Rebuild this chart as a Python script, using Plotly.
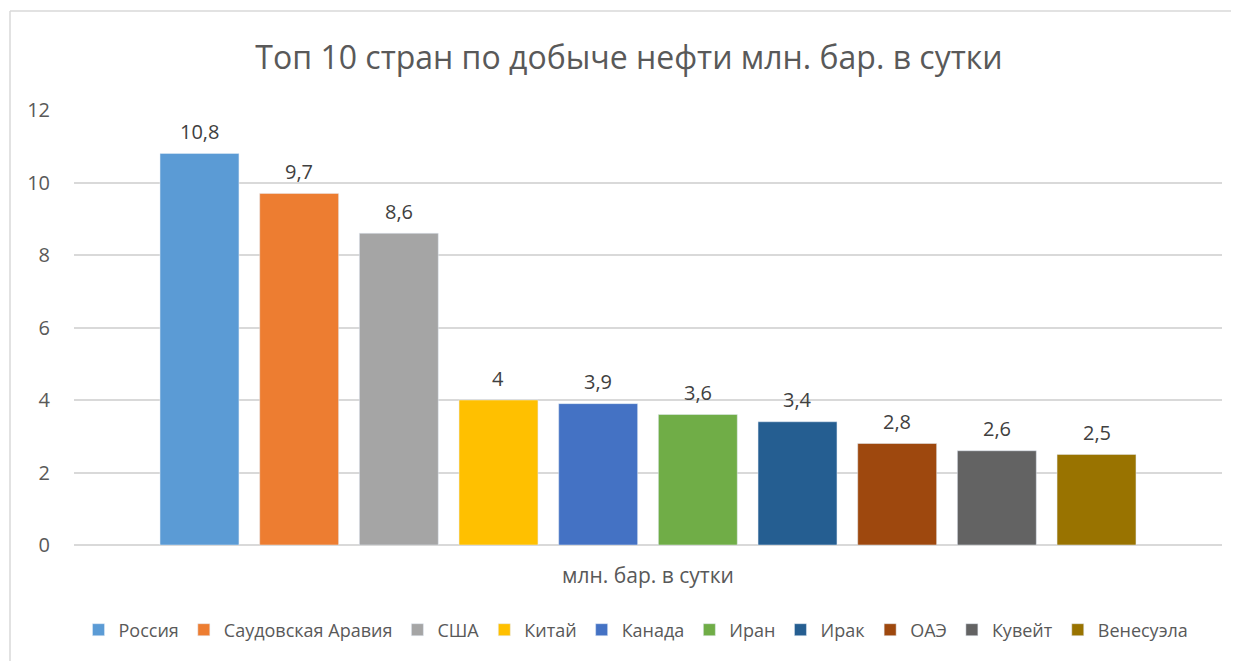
import plotly.graph_objects as go

countries = ["Россия", "Саудовская Аравия", "США", "Китай", "Канада",
             "Иран", "Ирак", "ОАЭ", "Кувейт", "Венесуэла"]
values = [10.8, 9.7, 8.6, 4, 3.9, 3.6, 3.4, 2.8, 2.6, 2.5]
labels = ["10,8", "9,7", "8,6", "4", "3,9", "3,6", "3,4", "2,8", "2,6", "2,5"]
colors = ["#5B9BD5", "#ED7D31", "#A5A5A5", "#FFC000", "#4472C4",
          "#70AD47", "#255E91", "#9E480E", "#636363", "#997300"]
category = "млн. бар. в сутки"
title = "Топ 10 стран по добыче нефти млн. бар. в сутки"

FONT = "'Open Sans', 'Noto Sans', sans-serif"
positions = list(range(len(countries)))

fig = go.Figure()
for pos, name, v, c in zip(positions, countries, values, colors):
    fig.add_trace(go.Bar(x=[pos], y=[v], name=name, marker_color=c, width=0.792))

for pos, v, lab in zip(positions, values, labels):
    fig.add_annotation(x=pos, y=v, text=lab, showarrow=False, yanchor="middle",
                       yshift=22, font=dict(size=20, color="#404040", family=FONT))

W, H = 1231, 653          # page adds an 8px body margin
L, R, T, B = 66, 17, 102, 116
pw, ph = W - L - R, H - T - B
edge = 1.259
center = (positions[0] + positions[-1]) / 2

fig.update_layout(
    width=W, height=H, autosize=False,
    margin=dict(l=L, r=R, t=T, b=B),
    paper_bgcolor="white", plot_bgcolor="white",
    font=dict(family=FONT, color="#595959"),
    title=dict(text=title, x=(629 - 8) / W, xanchor="center", y=1 - 50 / H, yanchor="middle",
               font=dict(size=32, color="#595959", family=FONT)),
    barmode="overlay",
    showlegend=True,
    legend=dict(orientation="h", xref="container", yref="container",
                x=(636 - 8) / W, xanchor="center",
                y=1 - (630 - 8) / H, yanchor="middle",
                font=dict(size=18, color="#595959", family=FONT),
                itemwidth=30, tracegroupgap=0),
    xaxis=dict(range=[positions[0] - edge, positions[-1] + edge],
               tickvals=[center], ticktext=[category],
               showgrid=False, showline=False, zeroline=False, ticks="",
               tickfont=dict(size=21, color="#595959"), ticklabelstandoff=16),
    yaxis=dict(range=[0, 12], dtick=2, showgrid=True, gridcolor="#D9D9D9", gridwidth=1.5,
               zeroline=True, zerolinecolor="#D9D9D9", zerolinewidth=1.5,
               showline=False, ticks="", tickfont=dict(size=20, color="#595959"),
               ticklabelstandoff=23),
    shapes=[
        dict(type="line", xref="paper", yref="paper",
             x0=(2 - L) / pw, x1=(W + 20 - L) / pw,
             y0=1 + (T - 3) / ph, y1=1 + (T - 3) / ph,
             line=dict(color="#D9D9D9", width=1.5)),
        dict(type="line", xref="paper", yref="paper",
             x0=(2 - L) / pw, x1=(2 - L) / pw,
             y0=1 + (T - 3) / ph, y1=-(B + 20) / ph,
             line=dict(color="#D9D9D9", width=1.5)),
    ],
)

fig.write_html("out.html")
